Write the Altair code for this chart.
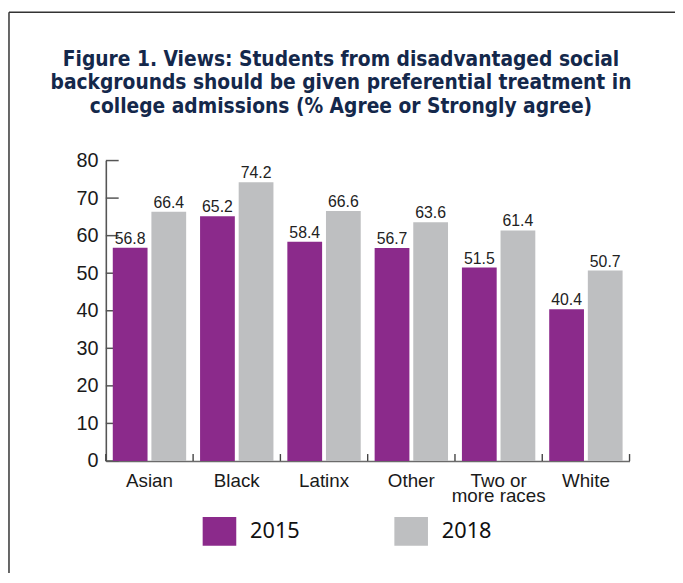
import altair as alt
import pandas as pd

categories = ["Asian", "Black", "Latinx", "Other", "Two or more races", "White"]
years = ["2015", "2018"]
values_2015 = [56.8, 65.2, 58.4, 56.7, 51.5, 40.4]
values_2018 = [66.4, 74.2, 66.6, 63.6, 61.4, 50.7]
y_ticks = [0, 10, 20, 30, 40, 50, 60, 70, 80]
title_lines = [
    "Figure 1. Views: Students from disadvantaged social",
    "backgrounds should be given preferential treatment in",
    "college admissions (% Agree or Strongly agree)",
]
colors = ["#8B2A8B", "#BEBFC1"]

rows = []
for c, a, b in zip(categories, values_2015, values_2018):
    rows.append({"category": c, "year": years[0], "value": a})
    rows.append({"category": c, "year": years[1], "value": b})
df = pd.DataFrame(rows)
cat_df = pd.DataFrame({"category": categories})
tick_df = pd.DataFrame({"value": y_ticks})
one = pd.DataFrame({"a": [0]})

W, H = 530, 304
SANS = "Liberation Sans, Arial, Helvetica, sans-serif"
NARROW = "Liberation Sans Narrow, Arial Narrow, DejaVu Sans Condensed, sans-serif"

x_scale = alt.Scale(domain=categories, paddingInner=0, paddingOuter=0)
y_scale = alt.Scale(domain=[0, 80], nice=False, zero=True)

x_axis = alt.Axis(
    labelAngle=0,
    labelFont=SANS,
    labelFontSize=19,
    labelColor="#1a1a1a",
    labelPadding=11,
    labelLineHeight=15,
    labelExpr="datum.label == 'Two or more races' ? ['Two or', 'more races'] : datum.label",
    ticks=False,
    domainColor="#6b6b6b",
    domainWidth=1.6,
    labelBaseline="top",
    labelOverlap=False,
)
y_axis = alt.Axis(
    values=y_ticks,
    tickCount=9,
    ticks=False,
    grid=False,
    labelFont=SANS,
    labelFontSize=20,
    labelColor="#1a1a1a",
    labelPadding=8,
    labelOverlap=False,
    labelSeparation=0,
    domainColor="#555555",
    domainWidth=1.6,
)

xoff = alt.XOffset("year:N", scale=alt.Scale(domain=years, paddingInner=0.1, paddingOuter=0.18))

ytick_rules = alt.Chart(tick_df).mark_rule(color="#555555", strokeWidth=1.5).encode(
    y=alt.Y("value:Q", scale=y_scale, title=None),
    x=alt.value(0),
    x2=alt.value(13),
)

bars = alt.Chart(df).mark_bar().encode(
    x=alt.X("category:N", scale=x_scale, sort=categories, title=None, axis=x_axis),
    xOffset=xoff,
    y=alt.Y("value:Q", scale=y_scale, axis=y_axis, title=None),
    color=alt.Color(
        "year:N",
        scale=alt.Scale(domain=years, range=colors),
        legend=alt.Legend(
            title=None,
            orient="none",
            legendX=98,
            legendY=358,
            direction="horizontal",
            symbolType="M-1,-0.85H1V0.85H-1Z",
            symbolSize=1156,
            symbolStrokeWidth=0,
            symbolOpacity=1,
            labelFont="Noto Sans, sans-serif",
            labelFontSize=22,
            labelColor="#111111",
            labelOffset=14,
            columnPadding=95,
            padding=0,
        ),
    ),
)

labels = alt.Chart(df).mark_text(
    baseline="alphabetic", dy=-4, font=SANS, fontSize=16, color="#222222"
).encode(
    x=alt.X("category:N", scale=x_scale, sort=categories),
    xOffset=xoff,
    y=alt.Y("value:Q", scale=y_scale),
    text=alt.Text("value:Q", format=".1f"),
)

xtick_rules = alt.Chart(cat_df).mark_rule(color="#444444", strokeWidth=1.4).encode(
    x=alt.X("category:N", scale=x_scale, sort=categories, bandPosition=0),
    y=alt.value(H - 7),
    y2=alt.value(H),
)
xtick_end = alt.Chart(cat_df).transform_filter(
    alt.datum.category == categories[-1]
).mark_rule(color="#444444", strokeWidth=1.4).encode(
    x=alt.X("category:N", scale=x_scale, sort=categories, bandPosition=1),
    y=alt.value(H - 7),
    y2=alt.value(H),
)

frame_top = alt.Chart(one).mark_rule(color="#333333", strokeWidth=1.5).encode(
    x=alt.value(-98), x2=alt.value(576), y=alt.value(-150.2)
)
frame_left = alt.Chart(one).mark_rule(color="#333333", strokeWidth=1.5).encode(
    x=alt.value(-98), y=alt.value(-150.2), y2=alt.value(420)
)

chart = alt.layer(
    ytick_rules, bars, labels, xtick_rules, xtick_end, frame_top, frame_left
).properties(
    width=W,
    height=H,
    autosize=alt.AutoSizeParams(type="none"),
    padding={"left": 99, "top": 151, "right": 46, "bottom": 110},
    title=alt.Title(
        text=title_lines,
        font=NARROW,
        fontSize=21,
        fontWeight="bold",
        color="#14284B",
        anchor="middle",
        frame="group",
        dx=-27,
        dy=107,
        lineHeight=24,
        offset=0,
    ),
).configure_view(stroke=None).configure_axisY(labelOverlap=False)

chart.save("out.html", embed_options={"renderer": "svg", "actions": False})
